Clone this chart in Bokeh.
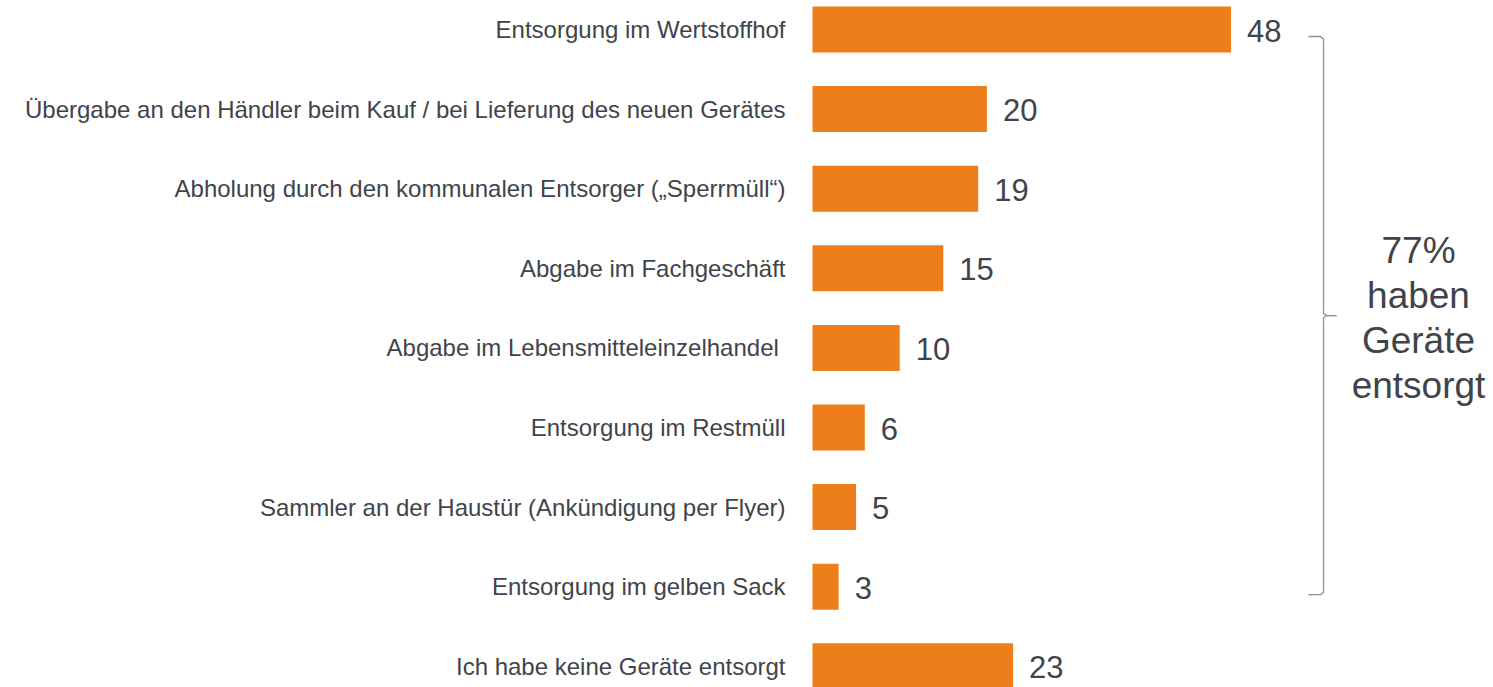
from bokeh.plotting import figure
from bokeh.models import ColumnDataSource, Range1d
from bokeh.core.properties import value
from bokeh.embed import file_html
from bokeh.resources import INLINE

categories = [
    "Entsorgung im Wertstoffhof",
    "Übergabe an den Händler beim Kauf / bei Lieferung des neuen Gerätes",
    "Abholung durch den kommunalen Entsorger („Sperrmüll“)",
    "Abgabe im Fachgeschäft",
    "Abgabe im  Lebensmitteleinzelhandel",
    "Entsorgung im Restmüll",
    "Sammler an der Haustür (Ankündigung per Flyer)",
    "Entsorgung im gelben Sack",
    "Ich habe keine Geräte entsorgt",
]
values = [48, 20, 19, 15, 10, 6, 5, 3, 23]
bracket_text = ["77%", "haben", "Geräte", "entsorgt"]

W, H = 1493, 687
PX_PER_UNIT = 8.72
X0 = 812
ROW = 79.6
Y0 = 29

TEXT = "#3f444a"
ORANGE = "#ee7e1a"
FONT = value("Liberation Sans")

idx = list(range(len(categories)))
src = ColumnDataSource(dict(y=idx, v=values, cat=categories,
                            lbl=[str(v) for v in values],
                            lx=[v + 16 / PX_PER_UNIT for v in values]))

p = figure(width=W, height=H, output_backend="svg", toolbar_location=None,
           x_range=Range1d(-X0 / PX_PER_UNIT, (W - X0) / PX_PER_UNIT),
           y_range=Range1d((H - Y0) / ROW, -Y0 / ROW),
           min_border=0, outline_line_color=None)
p.axis.visible = False
p.grid.visible = False
p.background_fill_color = "white"
p.border_fill_color = "white"

p.hbar(y="y", right="v", left=0, height=0.578, source=src,
       fill_color=ORANGE, line_color=None)

p.text(x=-27 / PX_PER_UNIT, y="y", text="cat", source=src,
       text_align="right", text_baseline="middle",
       text_font=FONT, text_font_size="24px", text_color=TEXT, y_offset=0)

p.text(x="lx", y="y", text="lbl", source=src,
       text_align="left", text_baseline="middle",
       text_font=FONT, text_font_size="31px", text_color=TEXT, y_offset=1)

# bracket over the first eight bars
xb = (1323 - X0) / PX_PER_UNIT
xh = (1308 - X0) / PX_PER_UNIT
xm = (1336 - X0) / PX_PER_UNIT
ytop = 0 + 7 / ROW
ybot = 7 + 8 / ROW
ymid = (ytop + ybot) / 2
r = 6 / ROW
c = 3 / PX_PER_UNIT
BR = "#8a9099"
p.line([xh, xb - c, xb, xb], [ytop, ytop, ytop + r * 0.4, ytop + r], line_color=BR, line_width=1.3)
p.line([xb, xb], [ytop + r, ymid - r], line_color=BR, line_width=1.3)
p.line([xb, xb, xb + c, xm], [ymid - r, ymid - r * 0.4, ymid, ymid], line_color=BR, line_width=1.3)
p.line([xb, xb, xb + c, xm], [ymid + r, ymid + r * 0.4, ymid, ymid], line_color=BR, line_width=1.3)
p.line([xb, xb], [ymid + r, ybot - r], line_color=BR, line_width=1.3)
p.line([xb, xb, xb - c, xh], [ybot - r, ybot - r * 0.4, ybot, ybot], line_color=BR, line_width=1.3)

tx = (1418 - X0) / PX_PER_UNIT
ty = [(250 - Y0 + 45 * i) / ROW for i in range(len(bracket_text))]
p.text(x=[tx] * len(bracket_text), y=ty, text=bracket_text,
       text_align="center", text_baseline="middle",
       text_font=FONT, text_font_size="37px", text_color=TEXT)

open("out.html", "w").write(file_html(p, INLINE))
